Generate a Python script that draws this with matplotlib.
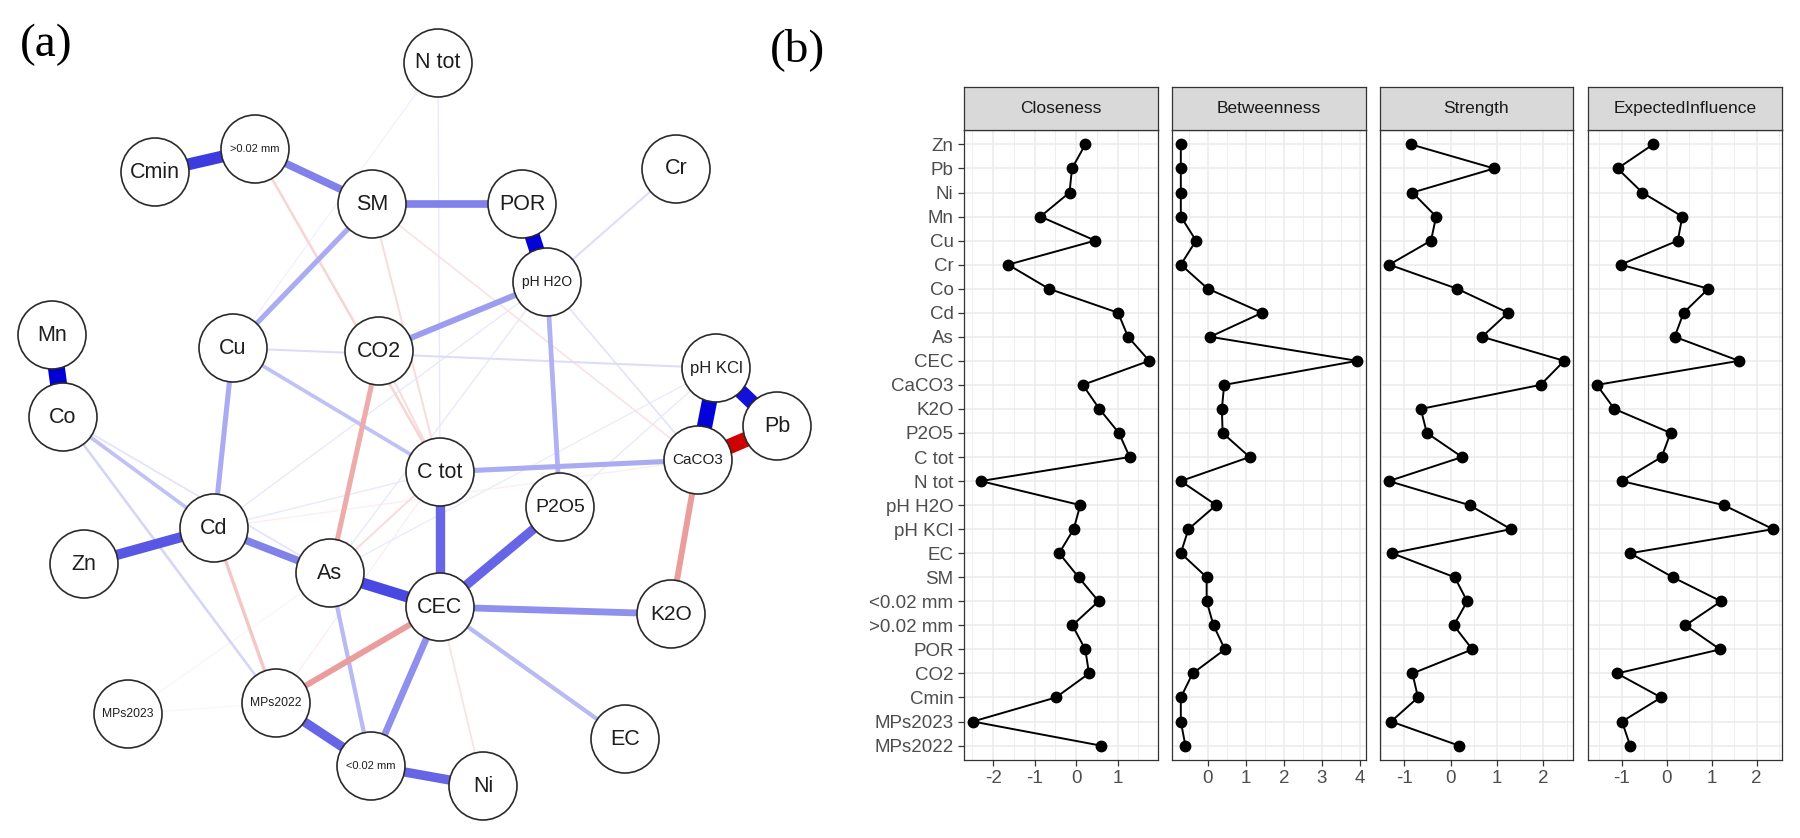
import numpy as np
import matplotlib.pyplot as plt
from matplotlib.patches import Circle
from matplotlib.ticker import MultipleLocator

plt.rcParams['font.family'] = ['Liberation Sans', 'DejaVu Sans']
plt.rcParams['axes.unicode_minus'] = False

# ---- network (a): node layout and labels
node_names = ['N tot', '>0.02 mm', 'Cmin', 'SM', 'POR', 'Cr', 'pH H2O', 'Mn', 'Co', 'Cu',
              'CO2', 'pH KCl', 'Pb', 'CaCO3', 'C tot', 'P2O5', 'Cd', 'Zn', 'As', 'CEC',
              'K2O', 'MPs2023', 'MPs2022', 'EC', '<0.02 mm', 'Ni']
node_x = [438, 255, 155, 372, 522, 676, 547, 52, 63, 233,
          379, 716, 777, 698, 440, 560, 214, 84, 330, 440,
          671, 128, 276, 625, 371, 483]
node_y = [63, 149, 172, 204, 204, 169, 282, 335, 417, 348,
          351, 368, 426, 460, 472, 507, 528, 564, 573, 607,
          614, 714, 703, 739, 766, 786]
node_fs = [15.5, 8, 15.5, 15.5, 15.5, 15.5, 10, 15.5, 15.5, 15.5,
           15.5, 12, 15.5, 11, 15.5, 14, 15.5, 15.5, 15.5, 15.5,
           15, 8.7, 8.7, 15.5, 8, 15.5]

# edges: partial correlations (positive blue, negative red)
edge_from = ['Mn', 'POR', 'pH KCl', 'pH KCl', 'CaCO3', 'Cmin', '>0.02 mm', 'SM', 'SM', 'CO2',
             'Cu', 'Cu', 'Cd', 'Cd', 'As', 'C tot', 'P2O5', 'CEC', 'CEC', 'CEC',
             'As', 'MPs2022', '<0.02 mm', 'C tot', 'pH H2O', 'Co', 'Co', 'Co', 'Cr', 'Cu',
             'N tot', 'N tot', 'pH H2O', 'pH H2O', 'pH H2O', 'pH KCl', 'Cd', 'MPs2023', 'P2O5',
             'CO2', 'CEC', 'CaCO3', '>0.02 mm', 'Cd', 'SM', 'SM', 'CEC', 'As', 'CO2',
             'Cd', 'MPs2022', 'MPs2023']
edge_to = ['Co', 'pH H2O', 'CaCO3', 'Pb', 'Pb', '>0.02 mm', 'SM', 'POR', 'Cu', 'pH H2O',
           'Cd', 'C tot', 'Zn', 'As', 'CEC', 'CEC', 'CEC', 'K2O', 'EC', '<0.02 mm',
           '<0.02 mm', '<0.02 mm', 'Ni', 'CaCO3', 'P2O5', 'Cd', 'MPs2022', 'As', 'pH H2O', 'pH KCl',
           'C tot', 'Cu', 'CaCO3', 'Cd', 'As', 'As', 'C tot', 'MPs2022', 'pH KCl',
           'As', 'MPs2022', 'K2O', 'C tot', 'MPs2022', 'CaCO3', 'C tot', 'Ni', 'C tot', 'C tot',
           'CaCO3', 'C tot', 'As']
edge_w = [1.0, 0.9, 0.9, 0.85, -0.9, 0.7, 0.45, 0.45, 0.3, 0.35,
          0.3, 0.22, 0.6, 0.45, 0.65, 0.55, 0.55, 0.4, 0.25, 0.4,
          0.25, 0.55, 0.55, 0.3, 0.28, 0.22, 0.15, 0.1, 0.12, 0.12,
          0.08, 0.05, 0.1, 0.08, 0.08, 0.07, 0.08, 0.03, 0.08,
          -0.3, -0.35, -0.35, -0.15, -0.2, -0.1, -0.12, -0.1, -0.12, -0.12,
          -0.06, -0.06, -0.04]

# ---- centrality indices (b)
variables = ['Zn', 'Pb', 'Ni', 'Mn', 'Cu', 'Cr', 'Co', 'Cd', 'As', 'CEC', 'CaCO3', 'K2O', 'P2O5',
             'C tot', 'N tot', 'pH H2O', 'pH KCl', 'EC', 'SM', '<0.02 mm', '>0.02 mm', 'POR',
             'CO2', 'Cmin', 'MPs2023', 'MPs2022']
closeness = [0.22, -0.10, -0.16, -0.86, 0.46, -1.64, -0.66, 1.01, 1.25, 1.76, 0.16, 0.56, 1.03,
             1.29, -2.30, 0.10, -0.06, -0.41, 0.06, 0.54, -0.09, 0.22, 0.31, -0.49, -2.49, 0.59]
betweenness = [-0.71, -0.71, -0.71, -0.71, -0.31, -0.71, 0.0, 1.43, 0.06, 3.93, 0.43, 0.37, 0.39,
               1.10, -0.71, 0.22, -0.51, -0.71, -0.03, -0.03, 0.15, 0.45, -0.40, -0.71, -0.71, -0.59]
strength = [-0.85, 0.94, -0.82, -0.31, -0.42, -1.32, 0.14, 1.24, 0.68, 2.45, 1.94, -0.64, -0.51,
            0.25, -1.33, 0.41, 1.30, -1.26, 0.09, 0.36, 0.07, 0.47, -0.82, -0.70, -1.28, 0.18]
expected_influence = [-0.30, -1.09, -0.54, 0.35, 0.25, -1.02, 0.93, 0.38, 0.18, 1.61, -1.55, -1.16,
                      0.09, -0.11, -1.00, 1.27, 2.37, -0.81, 0.14, 1.21, 0.42, 1.19, -1.10, -0.12,
                      -0.99, -0.81]

W, H = 1800, 838
fig = plt.figure(figsize=(W / 100, H / 100), dpi=100)


def edge_color(w):
    base = np.array([0.0, 0.0, 0.84]) if w > 0 else np.array([0.80, 0.0, 0.0])
    a = min(1.0, abs(w) * 1.1)
    return tuple(1 - a * (1 - base))


# ---------- (a) network ----------
nax = fig.add_axes([0, 0, 900 / W, 1])
nax.set_xlim(0, 900)
nax.set_ylim(H, 0)
nax.axis('off')

pos = {n: (x, y) for n, x, y in zip(node_names, node_x, node_y)}
order = np.argsort(np.abs(edge_w))
for i in order:
    a, b, w = edge_from[i], edge_to[i], edge_w[i]
    (x1, y1), (x2, y2) = pos[a], pos[b]
    px = max(1.3, 17 * abs(w))
    nax.plot([x1, x2], [y1, y2], color=edge_color(w), lw=px * 0.72,
             solid_capstyle='butt', zorder=1)

for n, x, y, fs in zip(node_names, node_x, node_y, node_fs):
    nax.add_patch(Circle((x, y), 34, facecolor='white', edgecolor='#2a2a2a', lw=1.2, zorder=3))
    nax.text(x, y, n, ha='center', va='center', fontsize=fs, color='#1e1e1e', zorder=4)

fig.text(46 / W, 1 - 45 / H, '(a)', fontsize=34, family='Liberation Serif',
         ha='center', va='center')
fig.text(797 / W, 1 - 50 / H, '(b)', fontsize=34, family='Liberation Serif',
         ha='center', va='center')

# ---------- (b) centrality facets ----------
panels = [('Closeness', closeness, 964, 1158),
          ('Betweenness', betweenness, 1172, 1366),
          ('Strength', strength, 1380, 1573),
          ('ExpectedInfluence', expected_influence, 1588, 1782)]
top, bottom, strip_top = 130, 760, 87

ypos = np.arange(len(variables))
for k, (title, vals, l, r) in enumerate(panels):
    ax = fig.add_axes([l / W, 1 - bottom / H, (r - l) / W, (bottom - top) / H])
    ax.plot(vals, ypos, color='black', lw=1.4, marker='o', ms=7.5, zorder=3)
    ax.set_ylim(len(variables) - 1 + 0.6, -0.6)
    ax.margins(x=0.05)
    ax.xaxis.set_major_locator(MultipleLocator(1))
    ax.xaxis.set_minor_locator(MultipleLocator(0.5))
    ax.set_yticks(ypos)
    if k == 0:
        ax.set_yticklabels(variables)
        ax.tick_params(axis='y', length=4, width=0.9, color='#333333',
                       labelcolor='#4D4D4D', labelsize=13.5)
    else:
        ax.set_yticklabels([])
        ax.tick_params(axis='y', length=0)
    ax.tick_params(axis='x', which='major', length=4, width=0.9, color='#333333',
                   labelcolor='#4D4D4D', labelsize=13.5)
    ax.tick_params(axis='x', which='minor', length=0)
    ax.grid(which='major', color='#EBEBEB', lw=1.1)
    ax.grid(which='minor', axis='x', color='#EBEBEB', lw=0.6)
    ax.set_axisbelow(True)
    for s in ax.spines.values():
        s.set_color('#333333')
        s.set_linewidth(0.9)

    sax = fig.add_axes([l / W, 1 - top / H, (r - l) / W, (top - strip_top) / H])
    sax.set_facecolor('#D9D9D9')
    sax.set_xticks([])
    sax.set_yticks([])
    for s in sax.spines.values():
        s.set_color('#333333')
        s.set_linewidth(0.9)
    sax.text(0.5, 0.5, title, transform=sax.transAxes, ha='center', va='center',
             fontsize=12.5, color='#1A1A1A')

fig.savefig('out.png', dpi=100)
